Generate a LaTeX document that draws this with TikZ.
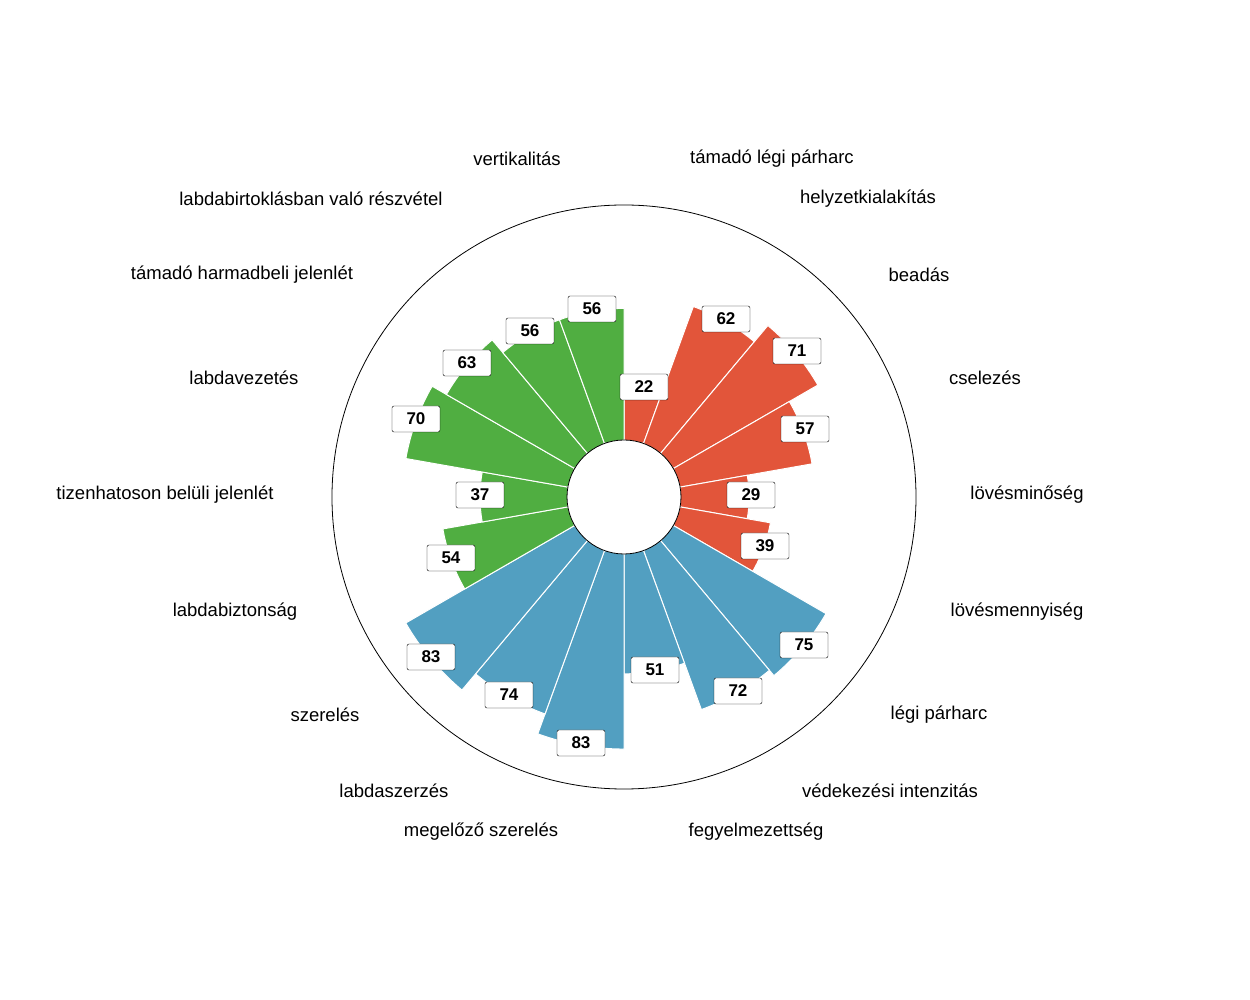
\documentclass[tikz,border=0pt]{standalone}
\usepackage{fontspec}
\setmainfont{Liberation Sans}
\definecolor{atkred}{RGB}{226,85,58}
\definecolor{defblue}{RGB}{82,159,193}
\definecolor{posgreen}{RGB}{80,174,65}
\tikzset{
  valbox/.style={draw=black,fill=white,rounded corners=2pt,inner sep=2pt,minimum width=48pt,minimum height=26pt,font=\fontsize{17}{17}\selectfont\bfseries},
  catlabel/.style={font=\fontsize{18.5}{20}\selectfont}
}
\begin{document}
\begin{tikzpicture}[x=1pt,y=1pt]
\useasboundingbox (-624,-503) rectangle (626,497);
% slices
\foreach \k/\v/\c in {0/22/atkred,1/62/atkred,2/71/atkred,3/57/atkred,4/29/atkred,5/39/atkred,
  6/75/defblue,7/72/defblue,8/51/defblue,9/83/defblue,10/74/defblue,11/83/defblue,
  12/54/posgreen,13/37/posgreen,14/70/posgreen,15/63/posgreen,16/56/posgreen,17/56/posgreen}{
  \pgfmathsetmacro\aone{90-20*\k}
  \pgfmathsetmacro\atwo{70-20*\k}
  \pgfmathsetmacro\rr{57+2.35*\v}
  \fill[\c,draw=white,line width=1pt] (\aone:57) -- (\aone:\rr)
    arc[start angle=\aone,end angle=\atwo,radius=\rr] -- (\atwo:57) -- cycle;
}
\draw[fill=white,line width=0.8pt] (0,0) circle[radius=57];
\draw[line width=0.8pt] (0,0) circle[radius=292];
% value boxes
\foreach \x/\y/\v/\n in {644/387/22/a,726/319/62/b,797/351/71/c,805/429/57/d,
  751/495/29/e,765/546/39/f,804/645/75/g,738/691/72/h,655/670/51/i,
  581/743/83/j,509/695/74/k,431/657/83/l,451/558/54/m,480/495/37/n,
  416/419/70/o,467/363/63/p,530/331/56/q,592/309/56/r}{
  \node[valbox] (val\n) at (\x-624,497-\y) {\v};
}
% category labels
\foreach \x/\y/\t/\n in {517/159/vertikalitás/a,772/159/támadó légi párharc/b,
  311/199/labdabirtoklásban való részvétel/c,868/199/helyzetkialakítás/d,
  242/275/támadó harmadbeli jelenlét/e,919/275/beadás/f,
  244/378/labdavezetés/g,985/378/cselezés/h,
  165/495/tizenhatoson belüli jelenlét/i,1027/495/lövésminőség/j,
  235/612/labdabiztonság/k,1017/612/lövésmennyiség/l,
  325/715/szerelés/m,939/715/légi párharc/n,
  394/791/labdaszerzés/o,890/791/védekezési intenzitás/p,
  481/832/megelőző szerelés/q,756/832/fegyelmezettség/r}{
  \node[catlabel] (lab\n) at (\x-624,497-\y) {\t};
}
\end{tikzpicture}
\end{document}
